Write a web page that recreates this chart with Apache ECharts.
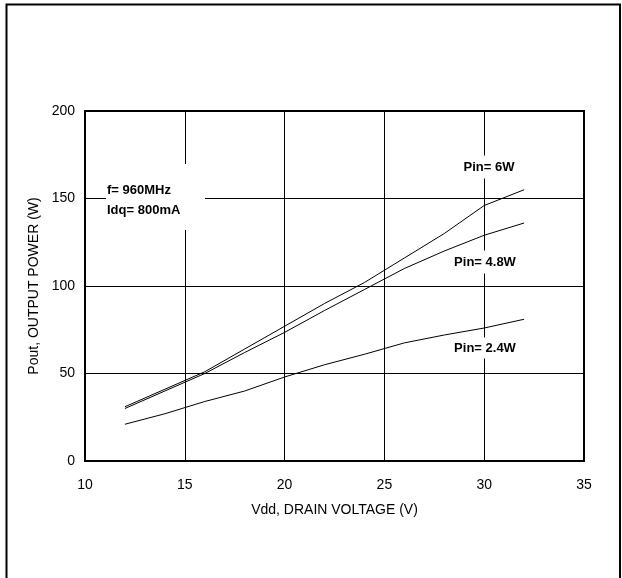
<!DOCTYPE html>
<html>
<head>
<meta charset="utf-8">
<script src="https://cdn.jsdelivr.net/npm/echarts@6/dist/echarts.min.js"></script>
<style>
html,body{margin:0;padding:0;background:#fff;}
#c{width:622px;height:578px;}
</style>
</head>
<body>
<div id="c"></div>
<script>
var vdd = [12, 14, 16, 18, 20, 22, 24, 26, 28, 30, 32];
var pin6W = [31, 41, 51, 64, 77, 90, 102, 116, 130, 146, 155];
var pin48W = [30, 40, 50, 62, 73.5, 86, 98, 110, 120, 129, 136];
var pin24W = [21, 27, 34, 40, 48, 55, 61, 67.5, 72, 76, 81];
var seriesNames = ['Pin= 6W', 'Pin= 4.8W', 'Pin= 2.4W'];
var xTitle = 'Vdd, DRAIN VOLTAGE (V)';
var yTitle = 'Pout, OUTPUT POWER (W)';
var note1 = 'f= 960MHz';
var note2 = 'Idq= 800mA';

function pairs(xs, ys) { return xs.map(function (x, i) { return [x, ys[i]]; }); }

var FONT = '"Liberation Sans", Arial, sans-serif';
var chart = echarts.init(document.getElementById('c'), null, {renderer: 'canvas'});
var lineStyle = {color: '#000', width: 1};
var option = {
  animation: false,
  backgroundColor: '#fff',
  grid: {left: 85, top: 111, width: 499, height: 350, show: true, borderColor: '#000', borderWidth: 2, backgroundColor: 'transparent'},
  xAxis: {
    type: 'value', min: 10, max: 35, interval: 5,
    name: xTitle, nameLocation: 'middle', nameGap: 42,
    nameTextStyle: {fontFamily: FONT, fontSize: 14, color: '#000'},
    axisLine: {show: true, lineStyle: {color: '#000', width: 2}},
    axisTick: {show: false},
    axisLabel: {fontFamily: FONT, fontSize: 14, color: '#000', margin: 17},
    splitLine: {show: true, lineStyle: {color: '#000', width: 1}}
  },
  yAxis: {
    type: 'value', min: 0, max: 200, interval: 50,
    name: yTitle, nameLocation: 'middle', nameGap: 40, nameRotate: 90,
    nameTextStyle: {fontFamily: FONT, fontSize: 14, color: '#000'},
    axisLine: {show: true, lineStyle: {color: '#000', width: 2}},
    axisTick: {show: false},
    axisLabel: {fontFamily: FONT, fontSize: 14, color: '#000', margin: 10},
    splitLine: {show: true, lineStyle: {color: '#000', width: 1}}
  },
  series: [
    {name: seriesNames[0], type: 'line', data: pairs(vdd, pin6W), showSymbol: false, lineStyle: lineStyle, z: 3},
    {name: seriesNames[1], type: 'line', data: pairs(vdd, pin48W), showSymbol: false, lineStyle: lineStyle, z: 3},
    {name: seriesNames[2], type: 'line', data: pairs(vdd, pin24W), showSymbol: false, lineStyle: lineStyle, z: 3}
  ],
  graphic: [
    {type: 'polyline', shape: {points: [[6.5, 600], [6.5, 4.5], [620, 4.5], [620, 600]]}, style: {stroke: '#000', lineWidth: 2, fill: null}, z: 100},
    {type: 'rect', shape: {x: 106, y: 164, width: 99, height: 66}, style: {fill: '#fff'}, z: 50},
    {type: 'text', left: 107, top: 180, style: {text: note1 + '\n' + note2, fontFamily: FONT, fontSize: 13, fontWeight: 'bold', fill: '#000', lineHeight: 20}, z: 51},
    {type: 'text', x: 489, y: 167, style: {text: seriesNames[0], fontFamily: FONT, fontSize: 13, fontWeight: 'bold', fill: '#000', align: 'center', verticalAlign: 'middle', backgroundColor: '#fff', padding: [5, 4, 5, 4]}, z: 51},
    {type: 'text', x: 485, y: 262, style: {text: seriesNames[1], fontFamily: FONT, fontSize: 13, fontWeight: 'bold', fill: '#000', align: 'center', verticalAlign: 'middle', backgroundColor: '#fff', padding: [5, 4, 5, 4]}, z: 51},
    {type: 'text', x: 485, y: 348, style: {text: seriesNames[2], fontFamily: FONT, fontSize: 13, fontWeight: 'bold', fill: '#000', align: 'center', verticalAlign: 'middle', backgroundColor: '#fff', padding: [4, 4, 4, 4]}, z: 51}
  ]
};
chart.setOption(option);
</script>
</body>
</html>
